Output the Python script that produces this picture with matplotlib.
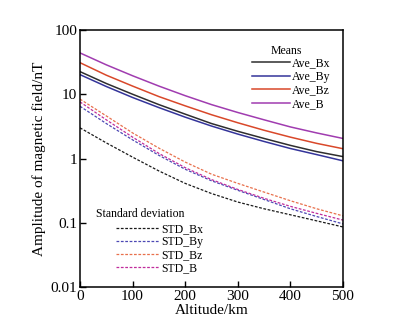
import numpy as np
import matplotlib
matplotlib.use("Agg")
import matplotlib.pyplot as plt
from matplotlib.ticker import FixedLocator, FixedFormatter, NullLocator

plt.rcParams['font.family'] = ['Liberation Serif', 'DejaVu Serif']

altitude = [0, 50, 100, 150, 200, 250, 300, 350, 400, 450, 500]

ave_b = [44.0, 28.7, 19.4, 13.4, 9.5, 6.9, 5.2, 4.0, 3.1, 2.5, 2.05]
ave_bz = [31.0, 19.8, 13.4, 9.2, 6.6, 4.8, 3.6, 2.75, 2.15, 1.72, 1.42]
ave_bx = [22.5, 14.7, 10.0, 6.9, 4.9, 3.5, 2.65, 2.05, 1.6, 1.28, 1.07]
ave_by = [20.2, 13.2, 8.9, 6.2, 4.4, 3.2, 2.4, 1.84, 1.43, 1.15, 0.92]

std_bz = [8.4, 4.6, 2.5, 1.45, 0.88, 0.57, 0.41, 0.30, 0.22, 0.165, 0.128]
std_b = [7.6, 4.0, 2.15, 1.2, 0.72, 0.47, 0.33, 0.24, 0.18, 0.14, 0.11]
std_by = [6.5, 3.5, 1.95, 1.12, 0.68, 0.45, 0.32, 0.23, 0.165, 0.125, 0.096]
std_bx = [3.0, 1.75, 1.05, 0.64, 0.41, 0.285, 0.21, 0.165, 0.133, 0.107, 0.086]

y_ticks = [0.01, 0.1, 1, 10, 100]
y_tick_labels = ['0.01', '0.1', '1', '10', '100']
x_ticks = [0, 100, 200, 300, 400, 500]

W, H = 402, 333
fig = plt.figure(figsize=(W / 100, H / 100), dpi=100)
ax = fig.add_axes([80 / W, 1 - 287 / H, 263 / W, 257 / H])

mean_lw = 1.1
std_lw = 0.9
dash = (0, (2.2, 1.3))

m_lines = []
m_lines += ax.plot(altitude, ave_bx, color='#2e2e2e', lw=mean_lw, label='Ave_Bx')
m_lines += ax.plot(altitude, ave_by, color='#34349a', lw=mean_lw, label='Ave_By')
m_lines += ax.plot(altitude, ave_bz, color='#d9482a', lw=mean_lw, label='Ave_Bz')
m_lines += ax.plot(altitude, ave_b, color='#a03cb0', lw=mean_lw, label='Ave_B')

s_lines = []
s_lines += ax.plot(altitude, std_bx, color='#1a1a1a', lw=std_lw, ls=dash, label='STD_Bx')
s_lines += ax.plot(altitude, std_by, color='#4c48b4', lw=std_lw, ls=dash, label='STD_By')
s_lines += ax.plot(altitude, std_bz, color='#e8704c', lw=std_lw, ls=dash, label='STD_Bz')
s_lines += ax.plot(altitude, std_b, color='#c02c9c', lw=std_lw, ls=dash, label='STD_B')

ax.set_yscale('log')
ax.set_xlim(0, 500)
ax.set_ylim(0.01, 100)
ax.yaxis.set_major_locator(FixedLocator(y_ticks))
ax.yaxis.set_major_formatter(FixedFormatter(y_tick_labels))
ax.yaxis.set_minor_locator(NullLocator())
ax.set_xticks(x_ticks)
ax.tick_params(direction='in', length=4, width=1, labelsize=11, pad=2)
for s in ax.spines.values():
    s.set_linewidth(1.1)

ax.set_xlabel('Altitude/km', fontsize=11, labelpad=1)
ax.set_ylabel('Amplitude of magnetic field/nT', fontsize=11, labelpad=3)

leg1 = ax.legend(handles=m_lines, loc='upper left', bbox_to_anchor=(252 / W, 1 - 57 / H),
                 bbox_transform=fig.transFigure, frameon=False, fontsize=8.5,
                 handlelength=3.2, handletextpad=0.2, labelspacing=0.15, borderpad=0,
                 borderaxespad=0)
ax.add_artist(leg1)
ax.legend(handles=s_lines, loc='upper left', bbox_to_anchor=(116 / W, 1 - 223 / H),
          bbox_transform=fig.transFigure, frameon=False, fontsize=8.5,
          handlelength=3.6, handletextpad=0.2, labelspacing=0.09, borderpad=0,
          borderaxespad=0)

fig.text(286 / W, 1 - 51 / H, 'Means', fontsize=8.5, ha='center', va='center')
fig.text(96 / W, 1 - 214 / H, 'Standard deviation', fontsize=8.5, ha='left', va='center')

fig.savefig('out.png', dpi=100)
